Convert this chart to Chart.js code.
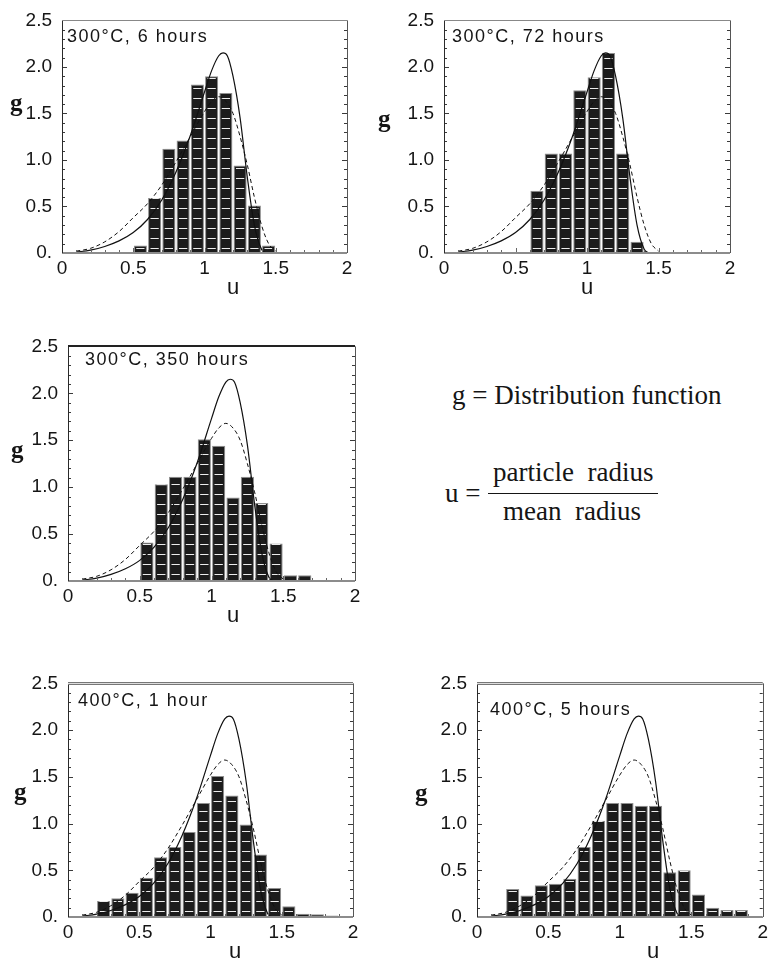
<!DOCTYPE html>
<html><head><meta charset="utf-8">
<script src="https://cdn.jsdelivr.net/npm/chart.js@4.4.1/dist/chart.umd.min.js"></script>
<style>
html,body{margin:0;padding:0;background:#fff;width:772px;height:962px;overflow:hidden;position:relative}
canvas{position:absolute}
.t{position:absolute;white-space:pre;line-height:1;color:#151515}
.sans{font-family:"Liberation Sans",Arial,sans-serif}
.serif{font-family:"Liberation Serif","Times New Roman",serif}
.ttl{font-size:18px;letter-spacing:1.5px}
.gl{font-size:25px;font-weight:bold}
.ul{font-size:22px}
.fx{font-size:27px}
.bar{position:absolute;background:#151515}
</style></head><body>
<canvas id="c1" width="357" height="284" style="left:2px;top:-1px"></canvas>
<canvas id="c2" width="358" height="284" style="left:384px;top:-1px"></canvas>
<canvas id="c3" width="359" height="286" style="left:8px;top:325px"></canvas>
<canvas id="c4" width="357" height="285" style="left:8px;top:662px"></canvas>
<canvas id="c5" width="355" height="285" style="left:417px;top:662px"></canvas>

<span class="t sans ttl" style="left:67px;top:26.8px">300°C, 6 hours</span>
<span class="t sans ttl" style="left:452px;top:26.8px">300°C, 72 hours</span>
<span class="t sans ttl" style="left:85px;top:349.8px">300°C, 350 hours</span>
<span class="t sans ttl" style="left:78px;top:690.8px">400°C, 1 hour</span>
<span class="t sans ttl" style="left:490px;top:699.8px">400°C, 5 hours</span>

<span class="t serif gl" style="left:10px;top:90px">g</span>
<span class="t serif gl" style="left:378px;top:106px">g</span>
<span class="t serif gl" style="left:11px;top:437px">g</span>
<span class="t serif gl" style="left:14px;top:779px">g</span>
<span class="t serif gl" style="left:415px;top:780px">g</span>

<span class="t sans ul" style="left:227px;top:276px">u</span>
<span class="t sans ul" style="left:581px;top:276px">u</span>
<span class="t sans ul" style="left:227px;top:604px">u</span>
<span class="t sans ul" style="left:229px;top:940px">u</span>
<span class="t sans ul" style="left:647px;top:940px">u</span>

<span class="t serif fx" style="left:452px;top:382.4px">g = Distribution function</span>
<span class="t serif fx" style="left:445px;top:480px">u =</span>
<span class="t serif fx" style="left:493px;top:459.4px">particle  radius</span>
<div class="bar" style="left:488px;top:492.5px;width:170px;height:1.5px"></div>
<span class="t serif fx" style="left:503px;top:498.4px">mean  radius</span>

<script>
// ---- data ----
const binCenters = [0.05,0.15,0.25,0.35,0.45,0.55,0.65,0.75,0.85,0.95,1.05,1.15,1.25,1.35,1.45,1.55,1.65,1.75,1.85,1.95];
const g300_6h   = [null,null,null,null,null,0.08,0.59,1.12,1.21,1.81,1.90,1.72,0.94,0.51,0.08,null,null,null,null,null];
const g300_72h  = [null,null,null,null,null,null,0.67,1.07,1.07,1.75,1.89,2.15,1.07,0.12,null,null,null,null,null,null];
const g300_350h = [null,null,null,null,null,0.41,1.03,1.11,1.11,1.51,1.44,0.89,1.11,0.83,0.40,0.06,0.06,null,null,null];
const g400_1h   = [0.01,0.015,0.17,0.20,0.26,0.42,0.64,0.75,0.91,1.22,1.51,1.30,0.99,0.67,0.31,0.115,0.035,0.03,0.015,0.01];
const g400_5h   = [null,0.01,0.30,0.23,0.34,0.355,0.41,0.75,1.03,1.22,1.22,1.19,1.19,0.48,0.50,0.24,0.10,0.075,0.075,null];

// solid theory curve
const solidU = [0.1,0.2,0.3,0.4,0.5,0.6,0.7,0.8,0.9,1.0,1.05,1.1,1.13,1.16,1.2,1.25,1.3,1.35,1.4,1.43];
const solidG = [0.01,0.03,0.07,0.13,0.22,0.36,0.57,0.87,1.26,1.73,1.96,2.12,2.15,2.12,1.90,1.45,0.82,0.30,0.04,0.0];
// dashed curve
const dashU = [0.1,0.2,0.3,0.4,0.5,0.6,0.7,0.8,0.9,1.0,1.05,1.1,1.15,1.2,1.25,1.3,1.35,1.4,1.45,1.5];
const dashG = [0.02,0.05,0.12,0.23,0.38,0.53,0.73,0.98,1.25,1.52,1.63,1.68,1.63,1.50,1.25,0.95,0.60,0.30,0.10,0.02];

const xTickValues = [0,0.5,1,1.5,2];
const yTickValues = [0,0.5,1.0,1.5,2.0,2.5];

// ---- plugin: inward ticks and frame ----
const framePlugin = {
  id: 'frame',
  afterDatasetsDraw(chart, args, opts) {
    const {ctx, chartArea: a, scales: {x, y}} = chart;
    ctx.save();
    ctx.lineWidth = 1;
    ctx.strokeStyle = '#3a3a3a';
    for (let k = 0; k <= 25; k++) {
      const py = Math.round(y.getPixelForValue(k / 10)) + 0.5;
      const len = k % 5 === 0 ? 5 : 3;
      ctx.beginPath();
      ctx.moveTo(a.left, py); ctx.lineTo(a.left + len, py);
      ctx.moveTo(a.right, py); ctx.lineTo(a.right - len, py);
      ctx.stroke();
    }
    ctx.strokeStyle = '#666';
    for (let k = 0; k <= 20; k++) {
      const px = Math.round(x.getPixelForValue(k / 10)) + 0.5;
      const len = k % 5 === 0 ? 5 : 3;
      ctx.beginPath(); ctx.moveTo(px, a.bottom); ctx.lineTo(px, a.bottom - len); ctx.stroke();
    }
    // bottom baseline
    ctx.strokeStyle = '#8c8c8c'; ctx.lineWidth = 2;
    ctx.beginPath(); ctx.moveTo(a.left, a.bottom); ctx.lineTo(a.right, a.bottom); ctx.stroke();
    // left & right
    ctx.lineWidth = 1;
    ctx.strokeStyle = '#2a2a2a';
    ctx.beginPath(); ctx.moveTo(a.left + 0.5, a.top); ctx.lineTo(a.left + 0.5, a.bottom); ctx.stroke();
    ctx.strokeStyle = '#555';
    ctx.beginPath(); ctx.moveTo(Math.round(a.right) + 0.5, a.top); ctx.lineTo(Math.round(a.right) + 0.5, a.bottom); ctx.stroke();
    // top
    const top = Math.round(a.top);
    if (opts.top === 'double') {
      ctx.fillStyle = '#777'; ctx.fillRect(a.left, top - 1, a.right - a.left, 3);
      ctx.fillStyle = '#ddd'; ctx.fillRect(a.left, top, a.right - a.left, 1);
    } else if (opts.top === 'dark') {
      ctx.fillStyle = '#222'; ctx.fillRect(a.left, top - 1, a.right - a.left, 2);
    } else {
      ctx.fillStyle = '#888'; ctx.fillRect(a.left, top, a.right - a.left, 1);
    }
    ctx.restore();
  }
};

function makeStripe(ctx) {
  const tile = document.createElement('canvas');
  tile.width = 4; tile.height = 10;
  const t = tile.getContext('2d');
  t.fillStyle = '#ececec';
  t.fillRect(0, 9, 4, 1);
  return ctx.createPattern(tile, 'repeat');
}

const tickFont = {family: '"Liberation Sans", Arial, sans-serif', size: 19};

function makeChart(id, values, topStyle, rightPad) {
  const canvas = document.getElementById(id);
  const ctx = canvas.getContext('2d');
  const bars = binCenters.map((c, i) => ({x: c, y: values[i]})).filter(d => d.y !== null);
  new Chart(ctx, {
    type: 'bar',
    data: {
      datasets: [
        {type: 'line', data: solidU.map((u, i) => ({x: u, y: solidG[i]})), borderColor: '#111', borderWidth: 1.2,
         pointRadius: 0, cubicInterpolationMode: 'monotone', order: 0},
        {type: 'line', data: dashU.map((u, i) => ({x: u, y: dashG[i]})), borderColor: '#111', borderWidth: 1,
         borderDash: [4, 3], pointRadius: 0, cubicInterpolationMode: 'monotone', order: 0},
        {type: 'bar', data: bars, backgroundColor: makeStripe(ctx), borderWidth: 0,
         barPercentage: 0.58, categoryPercentage: 1, grouped: false, order: 1},
        {type: 'bar', data: bars, backgroundColor: '#1c1c1c', borderColor: '#8f8f8f', borderWidth: 1,
         barPercentage: 0.92, categoryPercentage: 1, grouped: false, order: 2}
      ]
    },
    options: {
      responsive: false,
      animation: false,
      events: [],
      layout: {padding: {left: 0, top: 15, right: rightPad, bottom: 0}},
      plugins: {legend: {display: false}, tooltip: {enabled: false}, frame: {top: topStyle}},
      scales: {
        x: {
          type: 'linear', min: 0, max: 2, offset: false,
          afterFit: s => { s.height = 30; },
          afterBuildTicks: s => { s.ticks = xTickValues.map(v => ({value: v})); },
          ticks: {padding: 4, maxRotation: 0, autoSkip: false, font: tickFont, color: '#151515',
                  callback: v => String(Math.round(v * 10) / 10)},
          grid: {display: false, drawTicks: false, offset: false}, border: {display: false}
        },
        y: {
          type: 'linear', min: 0, max: 2.5,
          afterFit: s => { s.width = 60; },
          afterBuildTicks: s => { s.ticks = yTickValues.map(v => ({value: v})); },
          ticks: {padding: 10, autoSkip: false, font: tickFont, color: '#151515',
                  callback: v => (v === 0 ? '0.' : v.toFixed(1))},
          grid: {display: false, drawTicks: false}, border: {display: false}
        }
      }
    },
    plugins: [framePlugin]
  });
}

makeChart('c1', g300_6h, 'gray', 12);
makeChart('c2', g300_72h, 'gray', 12);
makeChart('c3', g300_350h, 'dark', 12);
makeChart('c4', g400_1h, 'double', 12);
makeChart('c5', g400_5h, 'double', 9);
</script>
</body></html>
